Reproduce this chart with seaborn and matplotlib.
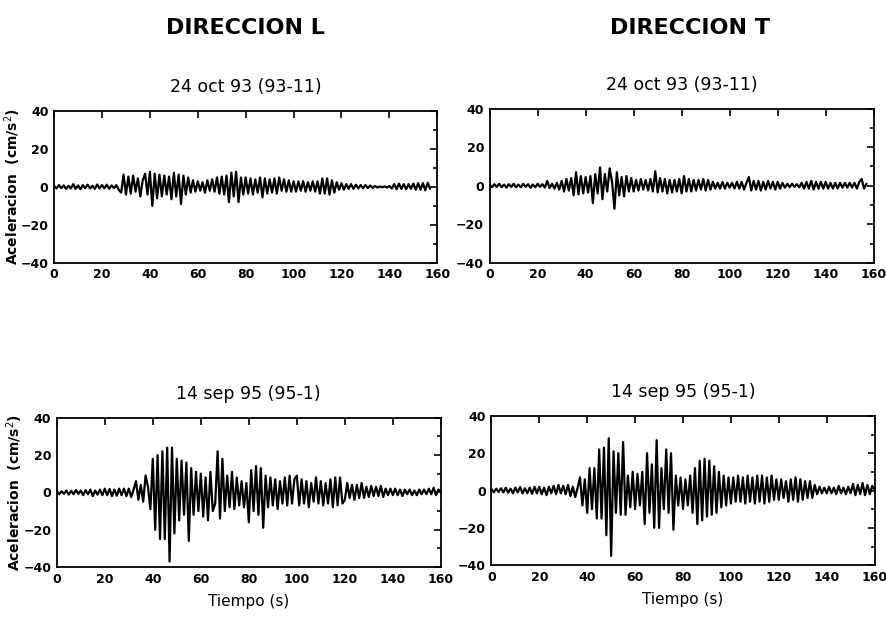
import numpy as np
import pandas as pd
import matplotlib
matplotlib.use("Agg")
import matplotlib.pyplot as plt
import seaborn as sns
from matplotlib.ticker import MultipleLocator

# ----------------------------
# Data (1 s spacing, cm/s^2)
# ----------------------------
acc_L_93 = [
    0.5, -0.8, 1.0, -0.6, 0.8, -1.0, 0.6, -0.8, 1.5, -1.0,
    0.8, -1.2, 1.0, -0.6, 1.2, -0.8, 0.6, -1.0, 1.3, -0.8,
    1.0, -0.7, 1.2, -1.0, 0.8, -0.6, 1.0, -1.5, -3.0, 6.5,
    -4.0, 5.5, -3.5, 6.0, -2.5, 4.5, -5.0, 3.5, 7.0, -4.0,
    8.0, -10.0, 7.0, -6.0, 6.5, -5.0, 6.0, -4.0, 5.5, -6.5,
    7.5, -5.0, 6.5, -9.0, 6.0, -4.0, 5.0, -3.0, 3.5, -2.5,
    3.0, -2.0, 2.5, -3.0, 3.5, -2.0, 4.0, -2.5, 5.0, -3.5,
    5.5, -4.0, 6.0, -8.0, 7.5, -5.0, 8.0, -8.0, 5.0, -4.0,
    5.0, -3.5, 4.5, -4.0, 4.0, -3.0, 5.0, -5.5, 4.5, -3.5,
    4.0, -3.0, 4.5, -3.5, 5.0, -2.0, 4.0, -2.5, 3.5, -2.5,
    3.0, -2.5, 3.0, -2.0, 3.0, -2.5, 2.5, -2.0, 3.0, -2.5,
    3.0, -3.5, 4.5, -3.5, 4.5, -4.0, 3.5, -3.0, 2.5, -1.5,
    2.0, -1.5, 1.5, -1.0, 1.5, -1.0, 1.2, -0.8, 1.0, -0.7,
    1.0, -0.6, 0.8, -0.5, 0.5, -0.3, 0.3, -0.2, 0.3, -0.3,
    0.5, -0.8, 1.5, -1.2, 1.8, -1.0, 1.5, -1.2, 1.5, -1.0,
    1.8, -1.5, 2.0, -1.5, 2.0, -1.8, 2.2, -1.0,
]

acc_T_93 = [
    0.6, -0.8, 0.8, -0.6, 1.0, -0.8, 0.6, -1.0, 0.8, -0.6,
    1.0, -0.8, 0.6, -0.8, 1.0, -0.6, 0.8, -1.0, 0.6, -0.8,
    1.0, -0.6, 0.8, -1.0, 2.5, -1.2, 1.0, -1.5, 1.5, -2.0,
    2.5, -3.0, 3.5, -2.5, 4.0, -5.0, 7.0, -4.5, 5.0, -4.0,
    4.5, -3.5, 5.0, -9.0, 6.0, -4.0, 9.5, -7.0, 6.0, -3.0,
    9.0, 2.0, -12.0, 7.0, -5.0, 4.5, -5.5, 5.0, -3.0, 4.0,
    -3.0, 3.0, -2.5, 3.5, -2.0, 3.0, -2.5, 3.5, -3.0, 7.5,
    -3.5, 4.0, -3.0, 3.5, -4.0, 3.0, -3.5, 3.0, -3.0, 3.5,
    -4.0, 5.0, -3.0, 3.5, -3.0, 3.0, -2.5, 3.0, -2.0, 3.5,
    -2.5, 3.0, -2.0, 2.0, -1.5, 1.5, -1.5, 2.0, -1.5, 1.5,
    -1.0, 1.5, -1.5, 2.0, -1.5, 2.0, -2.0, 1.5, 4.5, -2.5,
    2.5, -2.0, 2.5, -2.5, 2.0, -2.0, 2.5, -1.5, 2.0, -2.0,
    2.0, -1.5, 1.5, -1.0, 1.0, -0.8, 1.0, -0.6, 0.8, -0.8,
    1.5, -1.5, 2.0, -1.5, 2.5, -2.0, 2.0, -1.5, 2.0, -1.5,
    2.0, -1.5, 1.5, -1.5, 1.5, -1.5, 1.5, -1.0, 1.5, -1.0,
    1.5, -1.0, 1.5, -1.5, 2.0, 3.5, -1.5, 1.0,
]

acc_L_95 = [
    0.8, -1.0, 0.6, -0.8, 1.0, -1.2, 0.8, -1.0, 1.2, -0.8,
    1.0, -1.5, 1.2, -1.0, 1.5, -2.0, 1.0, -1.2, 1.5, -1.5,
    2.0, -1.5, 1.8, -2.0, 1.5, -1.8, 2.0, -1.5, 2.0, -2.0,
    2.0, -2.5, 1.5, 6.0, -4.0, 4.0, -5.0, 9.0, 3.0, -9.0,
    18.0, -20.0, 20.0, -25.0, 22.0, -25.0, 24.0, -37.0, 24.0, -22.0,
    18.0, -15.0, 17.0, -12.0, 16.0, -26.0, 13.0, -12.0, 11.0, -10.0,
    10.0, -13.0, 8.0, -15.0, 11.0, -10.0, -6.0, 22.0, -14.0, 18.0,
    -10.0, 9.0, -8.0, 11.0, -9.0, 8.0, -7.0, 6.0, -8.0, 5.0,
    -16.0, 12.0, -10.0, 14.0, -12.0, 13.0, -19.0, 9.0, -8.0, 8.0,
    -7.0, 7.0, -9.0, 6.0, -6.0, 8.0, -7.0, 9.0, -6.0, 7.0,
    9.0, -7.0, 7.0, -6.0, 6.0, -8.0, 5.0, -5.0, 8.0, -6.0,
    6.0, -7.0, 5.0, -6.0, 7.0, -8.0, 8.0, -7.0, 8.0, -6.0,
    -4.0, 5.0, -3.0, 4.0, -4.0, 4.0, -3.0, 5.0, -3.0, 3.0,
    -2.5, 3.5, -2.0, 3.0, -2.0, 3.5, -2.5, 2.0, -1.5, 2.0,
    -1.5, 2.0, -1.5, 1.5, -2.0, 1.5, -1.0, 1.5, -1.5, 1.0,
    -1.5, 1.5, -1.0, 1.5, -1.0, 2.0, -1.0, 2.5, -1.5, 1.5, 0.5,
]

acc_T_95 = [
    0.8, -1.0, 1.0, -0.8, 1.2, -1.0, 1.5, -1.2, 1.0, -1.5,
    1.5, -1.0, 1.8, -1.5, 1.2, -1.5, 1.5, -1.8, 2.0, -1.5,
    2.0, -2.0, 1.5, -2.5, 2.0, -1.5, 2.5, -2.0, 3.0, -1.5,
    2.5, -2.0, 3.0, -3.0, 2.0, -3.5, 1.5, 7.0, -8.0, 6.0,
    -12.0, 12.0, -10.0, 12.0, -15.0, 22.0, -15.0, 23.0, -24.0, 28.0,
    -35.0, 21.0, -12.0, 20.0, -13.0, 26.0, -13.0, 8.0, -9.0, 10.0,
    -10.0, 9.0, -8.0, 10.0, -18.0, 20.0, -12.0, 14.0, -20.0, 27.0,
    -20.0, 12.0, -10.0, 22.0, -12.0, 20.0, -21.0, 8.0, -8.0, 7.0,
    -10.0, 6.0, -8.0, 8.0, -12.0, 12.0, -18.0, 16.0, -16.0, 17.0,
    -14.0, 16.0, -13.0, 13.0, -12.0, 10.0, -9.0, 8.0, -8.0, 7.0,
    -7.0, 7.0, -6.0, 8.0, -6.0, 7.0, -7.0, 8.0, -6.0, 7.0,
    -7.0, 8.0, -6.0, 8.0, -7.0, 7.0, -6.0, 8.0, -5.0, 6.0,
    -5.0, 6.0, -4.0, 5.0, -6.0, 6.0, -5.0, 7.0, -6.0, 6.0,
    -5.0, 5.0, -4.0, 5.0, -4.0, 3.0, -2.0, 2.0, -1.5, 1.5,
    -1.5, 2.0, -1.5, 1.5, -2.0, 2.5, -1.5, 1.5, -2.0, 2.0,
    -1.5, 3.5, -2.5, 3.0, -2.0, 4.0, -2.5, 3.0, -2.0, 2.5, 0.5,
]

dt = 1.0
column_titles = ["DIRECCION L", "DIRECCION T"]
event_titles = ["24 oct 93 (93-11)", "14 sep 95 (95-1)"]
ylabel = "Aceleracion  (cm/s$^2$)"
xlabel = "Tiempo (s)"

# ----------------------------
# Plot
# ----------------------------
sns.set_style("white")
plt.rcParams["font.family"] = ["DejaVu Sans Condensed", "Liberation Sans Narrow", "DejaVu Sans"]
plt.rcParams["mathtext.fontset"] = "dejavusans"
for key in ["text.color", "axes.labelcolor", "xtick.color", "ytick.color"]:
    plt.rcParams[key] = "black"

fig = plt.figure(figsize=(8.87, 6.17), dpi=100)

positions = {
    (0, 0): [0.061, 0.574, 0.432, 0.246],
    (0, 1): [0.552, 0.574, 0.433, 0.250],
    (1, 0): [0.064, 0.081, 0.433, 0.242],
    (1, 1): [0.554, 0.084, 0.432, 0.242],
}
series = {
    (0, 0): acc_L_93,
    (0, 1): acc_T_93,
    (1, 0): acc_L_95,
    (1, 1): acc_T_95,
}

for (r, c), vals in series.items():
    ax = fig.add_axes(positions[(r, c)])
    df = pd.DataFrame({"t": np.arange(len(vals)) * dt, "a": vals})
    sns.lineplot(data=df, x="t", y="a", ax=ax, color="black", lw=1.6, sort=False)
    ax.set_xlim(0, 160)
    ax.set_ylim(-40, 40)
    ax.xaxis.set_major_locator(MultipleLocator(20))
    ax.yaxis.set_major_locator(MultipleLocator(20))
    ax.yaxis.set_minor_locator(MultipleLocator(10))
    ax.tick_params(which="both", direction="in", top=True, right=True,
                   labelsize=9, width=1.2, pad=4)
    ax.tick_params(which="major", length=5)
    ax.tick_params(which="minor", length=3)
    for lab in ax.get_xticklabels() + ax.get_yticklabels():
        lab.set_fontweight("bold")
    for s in ax.spines.values():
        s.set_color("black")
        s.set_linewidth(1.3)
    ax.set_title(event_titles[r], fontsize=12.5, pad=13.5)
    ax.set_xlabel(xlabel if r == 1 else "", fontsize=11, labelpad=6)
    ax.set_ylabel(ylabel if c == 0 else "", fontsize=10, fontweight="bold")
    ax.yaxis.set_label_coords(-0.082, 0.5)

fig.text(245 / 887, 1 - 28 / 617, column_titles[0], ha="center", va="center",
         fontsize=16, fontweight="bold")
fig.text(690 / 887, 1 - 28 / 617, column_titles[1], ha="center", va="center",
         fontsize=16, fontweight="bold")

fig.savefig("out.png", dpi=100)
